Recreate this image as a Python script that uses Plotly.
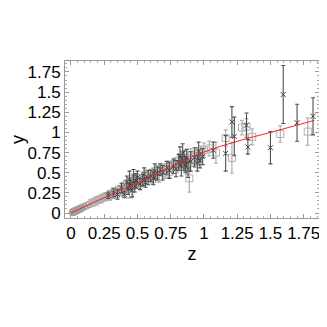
"""Hubble-type diagram: y versus redshift z with a fitted curve."""

import plotly.graph_objects as go

# low-z sample (open circles)
low_z = [0.012, 0.015, 0.017, 0.019, 0.021, 0.023, 0.025, 0.027, 0.029, 0.031,
         0.034, 0.036, 0.039, 0.042, 0.045, 0.048, 0.051, 0.054, 0.058, 0.062,
         0.066, 0.07, 0.075, 0.08, 0.085, 0.1, 0.12, 0.14, 0.17, 0.2, 0.22, 0.25,
         0.29, 0.33, 0.37, 0.41, 0.46, 0.5, 0.54, 0.59]
low_y = [0.010, 0.012, 0.014, 0.013, 0.017, 0.018, 0.021, 0.019, 0.023, 0.024,
         0.027, 0.026, 0.031, 0.032, 0.035, 0.038, 0.037, 0.042, 0.044, 0.049,
         0.05, 0.054, 0.058, 0.061, 0.066, 0.078, 0.094, 0.108, 0.13, 0.165, 0.17, 0.2,
         0.21, 0.26, 0.27, 0.33, 0.33, 0.39, 0.44, 0.43]
low_err = [0.004, 0.004, 0.004, 0.005, 0.005, 0.005, 0.005, 0.005, 0.006, 0.006,
           0.006, 0.006, 0.006, 0.007, 0.007, 0.007, 0.007, 0.008, 0.008, 0.008,
           0.009, 0.009, 0.009, 0.01, 0.01, 0.011, 0.012, 0.014, 0.015, 0.017, 0.018, 0.02,
           0.02, 0.025, 0.025, 0.03, 0.03, 0.03, 0.035, 0.035]

# gold sample (open squares, light bars)
sq_z = [0.16, 0.18, 0.2, 0.22, 0.24, 0.26, 0.27, 0.28, 0.3, 0.31, 0.33, 0.34,
        0.36, 0.37, 0.38, 0.4, 0.41, 0.42, 0.43, 0.44, 0.45, 0.46, 0.47, 0.48,
        0.5, 0.51, 0.52, 0.53, 0.55, 0.56, 0.58, 0.6, 0.61, 0.62, 0.64, 0.65,
        0.66, 0.68, 0.7, 0.71, 0.73, 0.74, 0.76, 0.78, 0.8, 0.81, 0.83, 0.84,
        0.86, 0.87, 0.88, 0.89, 0.9, 0.92, 0.93, 0.95, 0.96, 0.98, 1.0, 1.04,
        1.09, 1.163, 1.21, 1.286, 1.32, 1.363, 1.574, 1.78]
sq_y = [0.13, 0.14, 0.16, 0.17, 0.19, 0.2, 0.21, 0.2, 0.24, 0.22, 0.27, 0.23,
        0.29, 0.26, 0.3, 0.33, 0.28, 0.36, 0.31, 0.23, 0.38, 0.34, 0.42, 0.37,
        0.4, 0.35, 0.43, 0.38, 0.42, 0.47, 0.44, 0.48, 0.42, 0.5, 0.47, 0.53,
        0.44, 0.52, 0.55, 0.49, 0.57, 0.51, 0.58, 0.61, 0.57, 0.65, 0.6, 0.69,
        0.62, 0.56, 0.68, 0.43, 0.72, 0.66, 0.7, 0.73, 0.67, 0.74, 0.78, 0.8,
        0.75, 0.93, 0.685, 1.06, 1.07, 0.945, 0.98, 1.01]
sq_err = [0.02, 0.02, 0.025, 0.02, 0.03, 0.03, 0.025, 0.03, 0.03, 0.03, 0.04, 0.03,
          0.04, 0.04, 0.04, 0.05, 0.04, 0.05, 0.04, 0.04, 0.05, 0.05, 0.05, 0.05,
          0.05, 0.05, 0.05, 0.05, 0.06, 0.06, 0.06, 0.06, 0.06, 0.06, 0.06, 0.06,
          0.06, 0.06, 0.06, 0.06, 0.07, 0.07, 0.07, 0.07, 0.07, 0.07, 0.07, 0.08,
          0.08, 0.08, 0.08, 0.17, 0.08, 0.08, 0.08, 0.08, 0.08, 0.09, 0.09, 0.09,
          0.13, 0.1, 0.19, 0.09, 0.1, 0.1, 0.1, 0.17]

# HST sample (crosses, dark bars)
x_z = [0.28, 0.32, 0.35, 0.38, 0.4, 0.42, 0.43, 0.44, 0.45, 0.46, 0.47, 0.48,
       0.49, 0.5, 0.52, 0.54, 0.55, 0.56, 0.58, 0.6, 0.62, 0.63, 0.65, 0.67,
       0.69, 0.72, 0.74, 0.77, 0.79, 0.81, 0.82, 0.83, 0.84, 0.85, 0.86, 0.87,
       0.88, 0.9, 0.93, 0.95, 0.96, 0.97, 0.99, 1.07, 1.163, 1.21, 1.228, 1.32,
       1.33, 1.5, 1.596, 1.7, 1.82]
x_y = [0.22, 0.25, 0.23, 0.31, 0.23, 0.38, 0.3, 0.42, 0.35, 0.28, 0.46, 0.33,
       0.4, 0.44, 0.36, 0.41, 0.48, 0.38, 0.44, 0.46, 0.43, 0.52, 0.49, 0.54,
       0.5, 0.56, 0.53, 0.58, 0.55, 0.63, 0.7, 0.58, 0.74, 0.65, 0.6, 0.68,
       0.54, 0.64, 0.69, 0.62, 0.77, 0.65, 0.7, 0.78, 0.74, 1.13, 0.95, 1.09,
       0.82, 0.81, 1.47, 1.12, 1.2]
x_err = [0.04, 0.05, 0.06, 0.06, 0.04, 0.08, 0.07, 0.1, 0.06, 0.08, 0.08, 0.07,
         0.09, 0.08, 0.07, 0.07, 0.08, 0.06, 0.09, 0.07, 0.08, 0.09, 0.08, 0.07,
         0.09, 0.08, 0.1, 0.09, 0.1, 0.1, 0.12, 0.12, 0.12, 0.12, 0.1, 0.11,
         0.1, 0.12, 0.12, 0.1, 0.11, 0.09, 0.1, 0.1, 0.22, 0.19, 0.24, 0.15,
         0.09, 0.2, 0.36, 0.23, 0.23]

# fitted curve
fit_z = [0.0, 0.1, 0.25, 0.5, 0.75, 1.0, 1.25, 1.5, 1.83]
fit_y = [0.0, 0.077, 0.19, 0.375, 0.57, 0.755, 0.89, 1.0, 1.15]

tick_vals = [0, 0.25, 0.5, 0.75, 1, 1.25, 1.5, 1.75]
tick_text = ["0", "0.25", "0.5", "0.75", "1", "1.25", "1.5", "1.75"]

FONT = "Liberation Sans, Arial, sans-serif"

fig = go.Figure()

fig.add_trace(
    go.Scatter(
        x=low_z, y=low_y, mode="markers",
        error_y=dict(type="data", array=low_err, color="#b8b8b8", thickness=1, width=2),
        marker=dict(symbol="circle-open", size=7, color="#a0a0a0", line=dict(width=1)),
    )
)  # low-z circles

fig.add_trace(
    go.Scatter(
        x=sq_z, y=sq_y, mode="markers",
        error_y=dict(type="data", array=sq_err, color="#b5b5b5", thickness=1.3, width=2),
        marker=dict(symbol="square-open", size=7, color="#b0b0b0", line=dict(width=1)),
    )
)  # gold squares

fig.add_trace(
    go.Scatter(
        x=x_z, y=x_y, mode="markers",
        error_y=dict(type="data", array=x_err, color="#505050", thickness=1.1, width=2),
        marker=dict(symbol="x-thin-open", size=5, color="#444444", line=dict(width=1)),
    )
)  # HST crosses

fig.add_trace(
    go.Scatter(
        x=fit_z, y=fit_y, mode="lines", line=dict(color="#ff2020", width=1, shape="spline"),
    )
)  # fitted curve

axis_common = dict(
    showline=True, linecolor="#999999", linewidth=1, mirror="ticks",
    ticks="inside", ticklen=4, tickcolor="#999999",
    showgrid=False, zeroline=False, automargin=False,
    tickvals=tick_vals, ticktext=tick_text,
    tickfont=dict(family=FONT, size=17, color="black"),
    minor=dict(ticks="inside", ticklen=2, tickcolor="#aaaaaa", dtick=0.05, showgrid=False),
)

# the page body adds an 8px offset, so the figure is 8px smaller than the window
fig.update_layout(
    width=319, height=319,
    margin=dict(l=57, r=8, t=53, b=109),
    paper_bgcolor="white", plot_bgcolor="white",
    showlegend=False,
    xaxis=dict(range=[-0.045, 1.865],
               title=dict(text="z", font=dict(family=FONT, size=18, color="black"), standoff=4),
               **axis_common),
    yaxis=dict(range=[-0.062, 1.886],
               title=dict(text="y", font=dict(family=FONT, size=18, color="black"), standoff=10),
               **axis_common),
)

fig.write_html("out.html")
